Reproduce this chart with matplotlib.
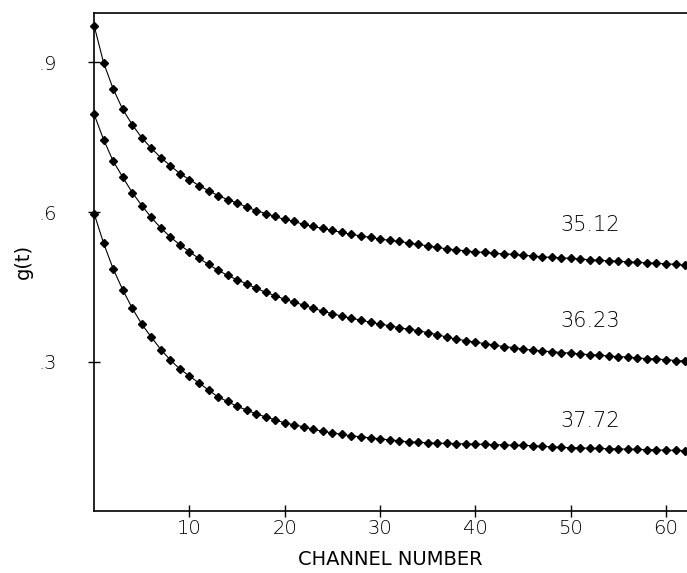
# coding: utf8

from matplotlib import pyplot as plt

channels = list(range(63))

g_3512 = [0.974, 0.899, 0.847, 0.806, 0.775, 0.749, 0.728, 0.709, 0.693, 0.677,
          0.665, 0.653, 0.643, 0.633, 0.625, 0.618, 0.610, 0.603, 0.597, 0.591,
          0.585, 0.581, 0.575, 0.571, 0.567, 0.563, 0.559, 0.555, 0.552, 0.549,
          0.546, 0.543, 0.541, 0.538, 0.535, 0.532, 0.529, 0.526, 0.524, 0.522,
          0.520, 0.519, 0.517, 0.516, 0.515, 0.513, 0.512, 0.510, 0.509, 0.508,
          0.507, 0.506, 0.504, 0.503, 0.502, 0.501, 0.500, 0.499, 0.498, 0.497,
          0.496, 0.495, 0.493]

g_3623 = [0.796, 0.745, 0.702, 0.670, 0.639, 0.613, 0.589, 0.568, 0.550, 0.534,
          0.520, 0.507, 0.495, 0.483, 0.473, 0.464, 0.456, 0.447, 0.439, 0.432,
          0.425, 0.419, 0.413, 0.407, 0.401, 0.396, 0.391, 0.387, 0.383, 0.379,
          0.375, 0.372, 0.368, 0.365, 0.362, 0.358, 0.354, 0.349, 0.345, 0.342,
          0.339, 0.336, 0.333, 0.330, 0.328, 0.325, 0.323, 0.321, 0.320, 0.318,
          0.317, 0.315, 0.314, 0.313, 0.311, 0.310, 0.309, 0.307, 0.306, 0.305,
          0.304, 0.302, 0.301]

g_3772 = [0.597, 0.537, 0.486, 0.444, 0.407, 0.375, 0.349, 0.324, 0.303, 0.285,
          0.271, 0.257, 0.243, 0.229, 0.220, 0.210, 0.203, 0.195, 0.189, 0.183,
          0.177, 0.173, 0.169, 0.164, 0.160, 0.157, 0.154, 0.151, 0.149, 0.147,
          0.145, 0.143, 0.141, 0.139, 0.138, 0.137, 0.136, 0.136, 0.135, 0.135,
          0.134, 0.134, 0.133, 0.133, 0.132, 0.132, 0.131, 0.130, 0.129, 0.128,
          0.127, 0.127, 0.126, 0.126, 0.125, 0.125, 0.124, 0.124, 0.123, 0.123,
          0.122, 0.122, 0.121]

series = [g_3512, g_3623, g_3772]
labels = ["35.12", "36.23", "37.72"]
label_pos = [(52, 0.574), (52, 0.381), (52, 0.180)]

x_ticks = [10, 20, 30, 40, 50, 60]
y_ticks = [0.3, 0.6, 0.9]
y_ticklabels = [".3", ".6", ".9"]

plt.rcParams["font.weight"] = "light"

fig = plt.figure(figsize=(6.87, 5.73), dpi=100)
ax = fig.add_axes([0.137, 0.108, 0.863, 0.870])

for y, lab, pos in zip(series, labels, label_pos):
    ax.plot(channels, y, color="black", lw=0.8, marker="D", ms=4.2,
            mfc="black", mec="black", clip_on=False)
    ax.text(pos[0], pos[1], lab, fontsize=15, ha="center", va="center")

ax.set_xlim(0, 62.2)
ax.set_ylim(0, 1.0)
ax.set_xticks(x_ticks)
ax.set_yticks(y_ticks)
ax.set_yticklabels(y_ticklabels)
ax.tick_params(direction="inout", length=9, width=1, labelsize=14)
ax.tick_params(axis="x", pad=1)
ax.tick_params(axis="y", pad=22)
ax.spines["right"].set_visible(False)
for s in ["left", "bottom", "top"]:
    ax.spines[s].set_linewidth(1.2)

ax.set_xlabel("CHANNEL NUMBER", fontsize=14, labelpad=9)
ax.set_ylabel("g(t)", fontsize=14, labelpad=4)

fig.savefig("out.png", dpi=100)
